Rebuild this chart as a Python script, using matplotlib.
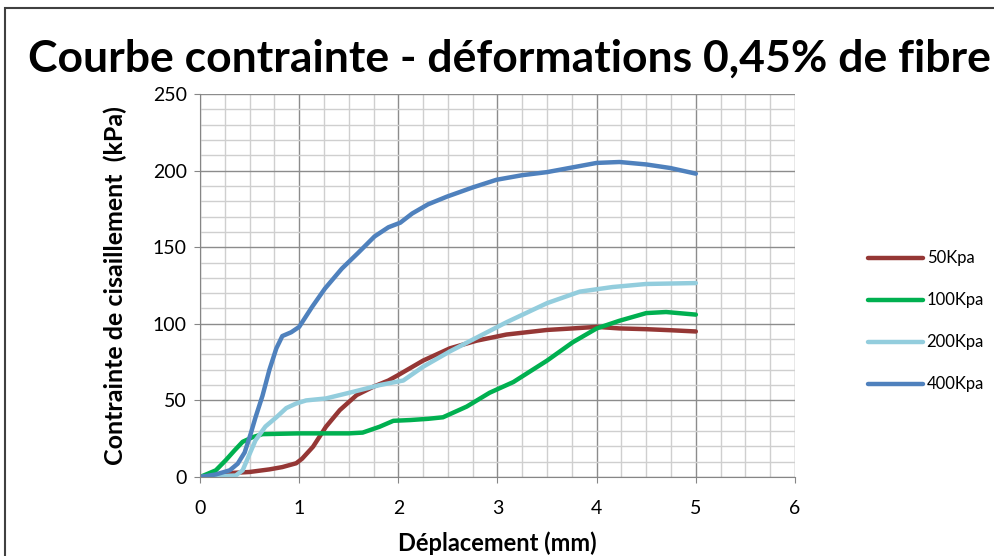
import matplotlib
matplotlib.use('Agg')
from matplotlib import pyplot as plt
from matplotlib.ticker import MultipleLocator
from matplotlib.patches import Rectangle

# values: displacement (mm) -> shear stress (kPa)
x_50 = [0, 0.16, 0.3, 0.5, 0.7, 0.83, 0.97, 1.03, 1.14, 1.27, 1.41, 1.58, 1.75, 1.9, 2.0,
        2.25, 2.52, 2.79, 3.09, 3.5, 3.76, 4.0, 4.23, 4.5, 4.75, 5.0]
y_50 = [0, 1.7, 2.6, 3.3, 5, 6.5, 9, 12, 19.8, 32.8, 43.7, 53.5, 59, 63, 66.6,
        76, 84, 89, 93, 96, 97, 98, 97, 96.5, 95.8, 95]

x_100 = [0, 0.16, 0.26, 0.35, 0.43, 0.53, 0.63, 1.0, 1.5, 1.64, 1.81, 1.95, 2.12, 2.3, 2.45,
         2.69, 2.92, 3.16, 3.5, 3.76, 4.0, 4.23, 4.5, 4.7, 5.0]
y_100 = [0, 4.4, 11, 17.5, 23, 26, 28, 28.5, 28.5, 29, 32.8, 36.7, 37.2, 38, 39,
         46, 55, 62, 76, 88, 97, 102, 107, 107.7, 106]

x_200 = [0, 0.16, 0.36, 0.43, 0.5, 0.56, 0.66, 0.77, 0.87, 0.97, 1.07, 1.27, 1.55, 1.81, 2.05,
         2.25, 2.52, 2.79, 3.09, 3.5, 3.83, 4.16, 4.5, 5.0]
y_200 = [0, 0.5, 1, 4.4, 15, 24, 33, 39, 45, 48, 50, 51.3, 55.7, 60, 63,
         72, 82, 91, 101, 113.5, 121, 124, 126, 126.6]

x_400 = [0, 0.16, 0.3, 0.38, 0.45, 0.51, 0.56, 0.63, 0.7, 0.77, 0.83, 0.92, 1.0, 1.13, 1.26,
         1.43, 1.59, 1.76, 1.9, 2.02, 2.14, 2.3, 2.49, 2.75, 2.99, 3.25, 3.5, 3.75, 4.0, 4.23,
         4.5, 4.74, 5.0]
y_400 = [0, 1.7, 4.4, 8.7, 16, 28, 39, 53, 70, 84, 92, 94.5, 98, 111, 123,
         136, 146, 157, 163, 166, 172, 178, 183, 189, 194, 197, 199, 202, 205, 205.6,
         204, 201.7, 198]

series = [('50Kpa', x_50, y_50, '#953735'),
          ('100Kpa', x_100, y_100, '#00B050'),
          ('200Kpa', x_200, y_200, '#93CDDD'),
          ('400Kpa', x_400, y_400, '#4F81BD')]

plt.rcParams['font.family'] = ['Lato', 'DejaVu Sans']

fig = plt.figure(figsize=(9.95, 5.56), dpi=100)
ax = fig.add_axes([0.201, 0.142, 0.598, 0.689])

for name, xs, ys, col in series:
    ax.plot(xs, ys, color=col, lw=3.2, label=name, solid_capstyle='round', solid_joinstyle='round')

ax.set_xlim(0, 6)
ax.set_ylim(0, 250)
ax.xaxis.set_major_locator(MultipleLocator(1))
ax.xaxis.set_minor_locator(MultipleLocator(0.25))
ax.yaxis.set_major_locator(MultipleLocator(50))
ax.yaxis.set_minor_locator(MultipleLocator(10))
ax.grid(which='major', color='#8c8c8c', lw=1)
ax.grid(which='minor', color='#cfcfcf', lw=1)
ax.set_axisbelow(True)
for s in ['top', 'right']:
    ax.spines[s].set_visible(False)
for s in ['left', 'bottom']:
    ax.spines[s].set_color('#868686')
ax.tick_params(which='major', direction='out', length=4.5, color='#868686', labelsize=14)
ax.tick_params(axis='x', which='major', pad=12)
ax.tick_params(axis='y', which='major', pad=5)
ax.tick_params(which='minor', length=0)

ax.set_xlabel('Déplacement (mm)', fontsize=17, fontweight='bold')
ax.set_ylabel('Contrainte de cisaillement  (kPa)', fontsize=18, fontweight='bold')
ax.xaxis.set_label_coords(0.5, -0.143)
ax.yaxis.set_label_coords(-0.123, 0.5)

fig.text(0.5116, 1 - 72 / 556, 'Courbe contrainte - déformations 0,45% de fibre', ha='center',
         va='baseline', fontsize=32, fontweight='bold')

fig.legend(loc='center left', bbox_to_anchor=(860 / 995, 1 - 321.5 / 556), frameon=False,
           fontsize=12, borderpad=0, handlelength=3.3, handletextpad=0.2, labelspacing=1.56)

fig.patches.append(Rectangle((5 / 995, -0.05), 1.0, 1 - 8 / 556 + 0.05, transform=fig.transFigure,
                             fill=False, edgecolor='#404040', lw=1.5))

fig.savefig('out.png', dpi=100)
